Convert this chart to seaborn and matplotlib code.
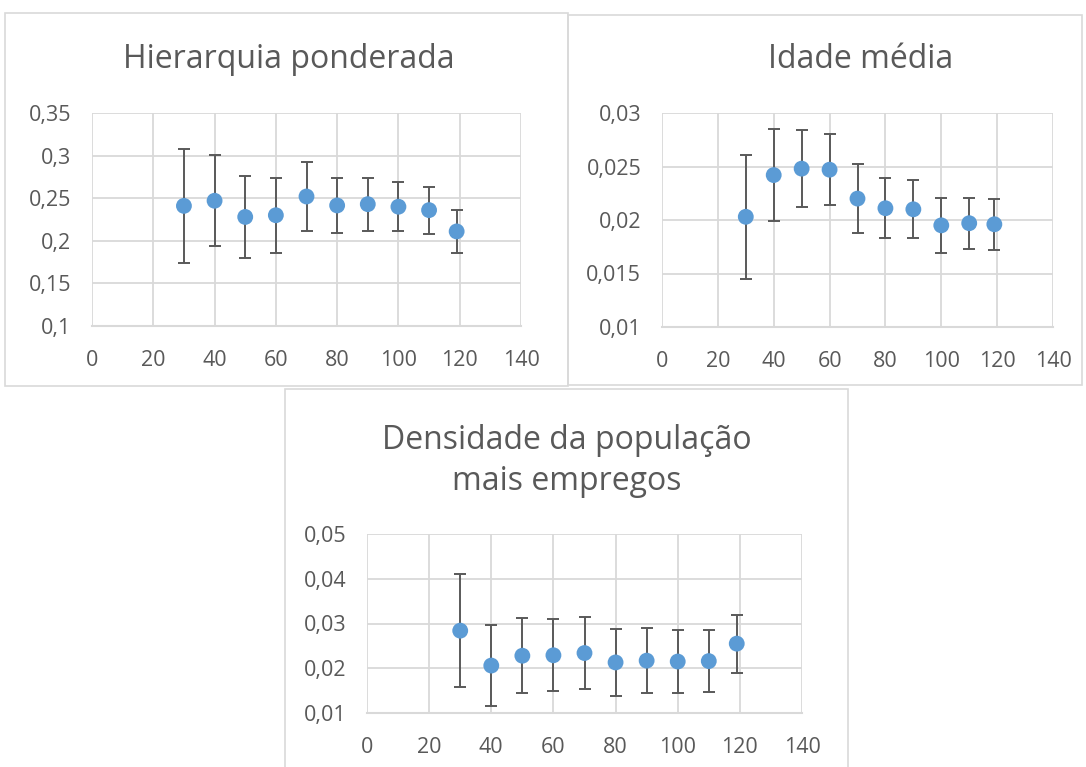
import matplotlib
matplotlib.use("Agg")
import matplotlib.pyplot as plt
from matplotlib.patches import Rectangle
from matplotlib.ticker import FuncFormatter, MultipleLocator
import seaborn as sns
import numpy as np
import pandas as pd

# Data
x_vals = [30, 40, 50, 60, 70, 80, 90, 100, 110, 119]

hier_mean = [0.241, 0.247, 0.228, 0.230, 0.252, 0.2415, 0.243, 0.240, 0.236, 0.211]
hier_err = [0.067, 0.0535, 0.048, 0.044, 0.041, 0.0325, 0.031, 0.029, 0.0275, 0.025]

idade_mean = [0.0203, 0.0242, 0.0248, 0.0247, 0.0220, 0.0211, 0.0210, 0.0195, 0.0197, 0.0196]
idade_err = [0.0058, 0.0043, 0.0036, 0.0033, 0.0032, 0.0028, 0.0027, 0.0026, 0.0024, 0.0024]

dens_mean = [0.0284, 0.0206, 0.0228, 0.0229, 0.0234, 0.0213, 0.0217, 0.0215, 0.0216, 0.0255]
dens_err = [0.0126, 0.0091, 0.0084, 0.0080, 0.0081, 0.0075, 0.0072, 0.0071, 0.0069, 0.0065]

titles = ["Hierarquia ponderada", "Idade média", "Densidade da população\nmais empregos"]
x_ticks = [0, 20, 40, 60, 80, 100, 120, 140]

BLUE = "#5b9bd5"
DARK = "#595959"
GRID = "#d9d9d9"

sns.set_theme(style="white")
plt.rcParams["font.family"] = ["Open Sans", "DejaVu Sans"]


def comma_fmt(v, pos):
    return f"{v:.10g}".replace(".", ",")


def draw_panel(fig, rect, means, errs, ylim, ystep):
    ax = fig.add_axes(rect)
    df = pd.DataFrame({"x": x_vals, "y": means, "err": errs})
    ax.errorbar(df["x"], df["y"], yerr=df["err"], fmt="none", ecolor=DARK,
                elinewidth=1.4, capsize=4, capthick=1.4, zorder=2)
    sns.scatterplot(data=df, x="x", y="y", ax=ax, color=BLUE, s=130,
                    edgecolor="none", zorder=3)
    ax.set_xlim(0, 140)
    ax.set_ylim(*ylim)
    ax.set_xticks(x_ticks)
    ax.yaxis.set_major_locator(MultipleLocator(ystep))
    ax.yaxis.set_major_formatter(FuncFormatter(comma_fmt))
    ax.grid(True, color=GRID, linewidth=1.3)
    ax.set_axisbelow(True)
    for side in ["top", "right", "left"]:
        ax.spines[side].set_visible(False)
    ax.spines["bottom"].set_color(GRID)
    ax.spines["bottom"].set_linewidth(1.5)
    ax.tick_params(axis="x", length=0, pad=17, labelsize=15.5, labelcolor=DARK)
    ax.tick_params(axis="y", length=0, pad=15, labelsize=15.5, labelcolor=DARK)
    ax.set_xlabel("")
    ax.set_ylabel("")
    return ax


W, H = 1086, 767
fig = plt.figure(figsize=(W / 100, H / 100), dpi=100)


def px_rect(x0, y0, x1, y1):
    return [x0 / W, 1 - y1 / H, (x1 - x0) / W, (y1 - y0) / H]


# chart frames
for x0, y0, x1, y1 in [(5, 13, 568, 386), (568, 15, 1082, 385), (285, 389, 848, 770)]:
    fig.add_artist(Rectangle((x0 / W, 1 - y1 / H), (x1 - x0) / W, (y1 - y0) / H,
                             transform=fig.transFigure, fill=False,
                             edgecolor=GRID, linewidth=1.2))

draw_panel(fig, px_rect(92, 113, 521, 326), hier_mean, hier_err, (0.1, 0.35), 0.05)
draw_panel(fig, px_rect(662, 113, 1053, 327), idade_mean, idade_err, (0.01, 0.03), 0.005)
draw_panel(fig, px_rect(367, 534, 802, 713), dens_mean, dens_err, (0.01, 0.05), 0.01)

fig.text(289 / W, 1 - 60 / H, titles[0], ha="center", va="center", fontsize=23, color=DARK)
fig.text(861 / W, 1 - 60 / H, titles[1], ha="center", va="center", fontsize=23, color=DARK)
fig.text(567 / W, 1 - 461 / H, titles[2], ha="center", va="center", fontsize=23,
         color=DARK, linespacing=1.35)

fig.savefig("out.png", dpi=100)
